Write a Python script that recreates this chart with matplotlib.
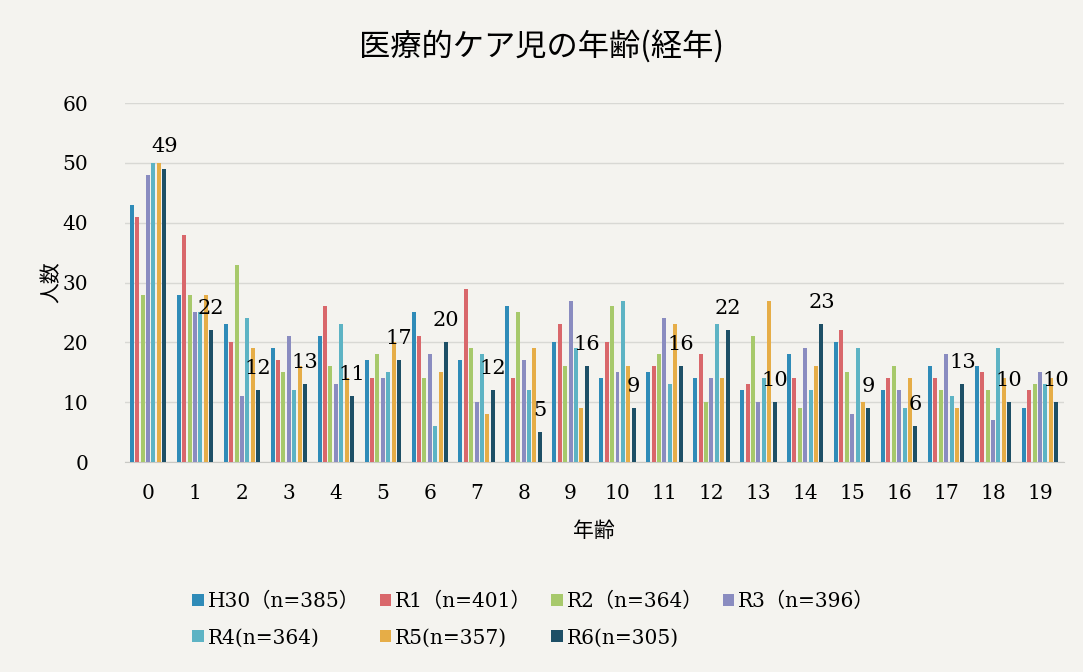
import numpy as np
import matplotlib.pyplot as plt

# 年齢 0〜19 歳, 年度ごとの人数
ages = list(range(20))
series_names = ["H30\uff08n=385\uff09", "R1\uff08n=401\uff09", "R2\uff08n=364\uff09", "R3\uff08n=396\uff09",
                "R4(n=364)", "R5(n=357)", "R6(n=305)"]

h30 = [43, 28, 23, 19, 21, 17, 25, 17, 26, 20, 14, 15, 14, 12, 18, 20, 12, 16, 16, 9]
r1 = [41, 38, 20, 17, 26, 14, 21, 29, 14, 23, 20, 16, 18, 13, 14, 22, 14, 14, 15, 12]
r2 = [28, 28, 33, 15, 16, 18, 14, 19, 25, 16, 26, 18, 10, 21, 9, 15, 16, 12, 12, 13]
r3 = [48, 25, 11, 21, 13, 14, 18, 10, 17, 27, 15, 24, 14, 10, 19, 8, 12, 18, 7, 15]
r4 = [50, 25, 24, 12, 23, 15, 6, 18, 12, 19, 27, 13, 23, 14, 12, 19, 9, 11, 19, 13]
r5 = [50, 28, 19, 16, 14, 20, 15, 8, 19, 9, 16, 23, 14, 27, 16, 10, 14, 9, 14, 14]
r6 = [49, 22, 12, 13, 11, 17, 20, 12, 5, 16, 9, 16, 22, 10, 23, 9, 6, 13, 10, 10]

colors = ["#2f8bb8", "#d9676b", "#a7c96b", "#8a8cc0", "#5db3c4", "#e6ad47", "#1d4f66"]

plt.rcParams['font.family'] = ['DejaVu Serif', 'Noto Sans CJK JP']
jp = ['Noto Sans CJK JP']
bg = "#f4f3ef"

fig = plt.figure(figsize=(10.83, 6.72), dpi=100, facecolor=bg)
ax = fig.add_axes([0.115, 0.3125, 0.867, 0.534], facecolor=bg)

x = np.arange(len(ages))
step = 0.115
width = 0.085
all_series = [h30, r1, r2, r3, r4, r5, r6]
handles = []
for i, (vals, c, name) in enumerate(zip(all_series, colors, series_names)):
    b = ax.bar(x + (i - 3) * step, vals, width=width, color=c, label=name, zorder=3)
    handles.append(b)

# R6 のみデータラベル
ax.bar_label(handles[-1], fontsize=15, padding=9, zorder=5)

ax.set_xlim(-0.5, 19.5)
ax.set_ylim(0, 60)
ax.set_yticks(range(0, 61, 10))
ax.set_xticks(x)
ax.set_xticklabels([str(a) for a in ages])
ax.tick_params(axis='both', length=0, labelsize=14.5)
ax.tick_params(axis='x', pad=16)
ax.tick_params(axis='y', pad=26)
ax.grid(axis='y', color='#d8d8d4', linewidth=1, zorder=0)
for s in ['top', 'right', 'left']:
    ax.spines[s].set_visible(False)
ax.spines['bottom'].set_color('#c8c8c4')

fig.text(0.5, 0.932, "医療的ケア児の年齢(経年)", family=jp, fontsize=22.5, ha='center', va='center')
ax.set_xlabel("年齢", family=jp, fontsize=15, labelpad=12)
ax.set_ylabel("人数", family=jp, fontsize=15, labelpad=0)

# 凡例: 4列, 行方向に並べる
order = [0, 4, 1, 5, 2, 6, 3]
fig.legend([handles[k] for k in order], [series_names[k] for k in order], ncol=4,
           frameon=False, fontsize=14.5, handlelength=0.55, handleheight=0.55,
           handletextpad=0.2, columnspacing=1.0, labelspacing=0.85,
           loc='upper left', bbox_to_anchor=(0.161, 0.146))

fig.savefig("out.png", dpi=100, facecolor=bg)
